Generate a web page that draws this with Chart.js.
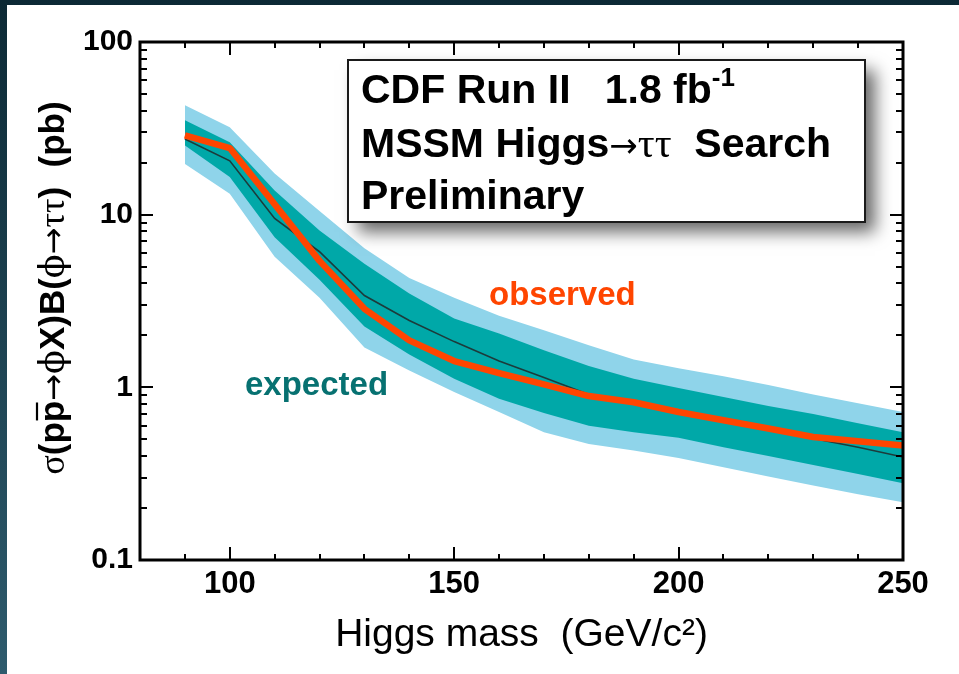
<!DOCTYPE html>
<html>
<head>
<meta charset="utf-8">
<script src="https://cdn.jsdelivr.net/npm/chart.js@4.4.1/dist/chart.umd.min.js"></script>
<style>
  html, body { margin: 0; padding: 0; }
  body {
    width: 959px; height: 674px; overflow: hidden; position: relative;
    background: linear-gradient(#0c2935, #2e5b6d);
  }
  #panel { position: absolute; left: 7px; top: 5px; right: 0; bottom: 0; background: #ffffff; }
  #c { position: absolute; left: 0; top: 0; }
</style>
</head>
<body>
<div id="panel"></div>
<canvas id="c" width="959" height="674"></canvas>
<script>
// Higgs mass points (GeV/c^2)
const masses = [90, 100, 110, 120, 130, 140, 150, 160, 170, 180, 190, 200, 210, 220, 230, 240, 250];

// 95% CL limits on sigma x BR (pb)
const observed   = [28.8, 24.3, 11.5, 5.4, 2.85, 1.87, 1.42, 1.21, 1.04, 0.89, 0.82, 0.72, 0.645, 0.578, 0.516, 0.487, 0.461];
const expected   = [27.4, 20.5, 9.5, 6.1, 3.4, 2.44, 1.84, 1.42, 1.14, 0.91, 0.80, 0.72, 0.64, 0.57, 0.505, 0.45, 0.395];
const band1Upper = [35.2, 26.3, 13.8, 8.1, 5.2, 3.5, 2.5, 2.05, 1.64, 1.33, 1.12, 0.99, 0.88, 0.78, 0.70, 0.62, 0.55];
const band1Lower = [25.2, 16.5, 7.4, 4.2, 2.25, 1.55, 1.12, 0.86, 0.71, 0.60, 0.55, 0.51, 0.45, 0.40, 0.355, 0.315, 0.278];
const band2Upper = [43.0, 32.1, 17.3, 10.5, 6.4, 4.3, 3.3, 2.6, 2.14, 1.75, 1.45, 1.29, 1.16, 1.03, 0.91, 0.81, 0.72];
const band2Lower = [19.7, 13.2, 5.7, 3.3, 1.7, 1.25, 0.94, 0.72, 0.55, 0.47, 0.43, 0.39, 0.345, 0.305, 0.27, 0.24, 0.216];

// Axis labelling
const xMajorTicks = [100, 150, 200, 250];
const yMajorTicks = [0.1, 1, 10, 100];

const C_LIGHT = '#8fd4ea';
const C_TEAL  = '#00a8a8';
const C_OBS   = '#ff4500';
const C_EXP   = '#1c3b3b';

const pts = arr => masses.map((m, i) => ({ x: m, y: arr[i] }));

const SANS = '"Liberation Sans", Arial, sans-serif';
const SERIF = '"Liberation Serif", "DejaVu Serif", serif';
const SYM = '"DejaVu Serif", serif';
const ARROW = '"DejaVu Sans", sans-serif';

// Draws a row of text pieces with different fonts, starting at x
function drawRuns(ctx, runs, x, y) {
  let cx = x;
  for (const r of runs) {
    ctx.font = r.font;
    const dy = r.dy || 0;
    ctx.fillText(r.text, cx, y + dy);
    const w = ctx.measureText(r.text).width;
    if (r.overbar) {
      const ob = r.overbar;
      ctx.save();
      ctx.lineWidth = 2.2;
      ctx.beginPath();
      ctx.moveTo(cx + ob.from * w, y - ob.h);
      ctx.lineTo(cx + ob.to * w, y - ob.h);
      ctx.stroke();
      ctx.restore();
    }
    cx += w;
  }
  return cx - x;
}
function runsWidth(ctx, runs) {
  let w = 0;
  for (const r of runs) { ctx.font = r.font; w += ctx.measureText(r.text).width; }
  return w;
}

const framePlugin = {
  id: 'frameAndTicks',
  afterDraw(chart) {
    const ctx = chart.ctx;
    const { left, right, top, bottom } = chart.chartArea;
    const xs = chart.scales.x, ys = chart.scales.y;
    ctx.save();
    ctx.strokeStyle = '#000';

    // inward ticks on all four sides
    ctx.lineWidth = 2;
    ctx.beginPath();
    for (let m = 90; m <= 250; m += 10) {
      const px = Math.round(xs.getPixelForValue(m));
      const len = xMajorTicks.includes(m) ? 13 : 6;
      ctx.moveTo(px, bottom); ctx.lineTo(px, bottom - len);
      ctx.moveTo(px, top); ctx.lineTo(px, top + len);
    }
    for (let d = -1; d <= 1; d++) {
      for (let k = 1; k <= 10; k++) {
        const v = k * Math.pow(10, d);
        const py = Math.round(ys.getPixelForValue(v));
        const len = (k === 1 || k === 10) ? 13 : 7;
        ctx.moveTo(left, py); ctx.lineTo(left + len, py);
        ctx.moveTo(right, py); ctx.lineTo(right - len, py);
      }
    }
    ctx.stroke();

    // plot frame
    ctx.lineWidth = 3;
    ctx.strokeRect(left, top, right - left, bottom - top);

    // y-axis title, rotated
    const fb = 'bold 35px ' + SANS;
    const fs = '36px ' + SERIF;
    const fp = '35px ' + SYM;
    const fa = '32px ' + ARROW;
    const yRuns = [
      { text: 'σ', font: fs },
      { text: '(p', font: fb },
      { text: 'p', font: fb, overbar: { from: 0.08, to: 0.92, h: 27 } },
      { text: '→', font: fa },
      { text: 'ϕ', font: fp },
      { text: 'X)B(', font: fb },
      { text: 'ϕ', font: fp },
      { text: '→', font: fa },
      { text: 'ττ', font: fs },
      { text: ')  (pb)', font: fb }
    ];
    ctx.save();
    ctx.translate(64, 288);
    ctx.rotate(-Math.PI / 2);
    ctx.fillStyle = '#000';
    ctx.strokeStyle = '#000';
    ctx.textBaseline = 'alphabetic';
    const tw = runsWidth(ctx, yRuns);
    drawRuns(ctx, yRuns, -tw / 2, 0);
    ctx.restore();

    // curve labels
    ctx.font = 'bold 33px ' + SANS;
    ctx.textAlign = 'left';
    ctx.textBaseline = 'alphabetic';
    ctx.fillStyle = C_OBS;
    ctx.fillText('observed', 489, 305);
    ctx.fillStyle = '#077171';
    ctx.fillText('expected', 245, 395);

    // info box with drop shadow
    const bx = 348, by = 60, bw = 517, bh = 162;
    ctx.save();
    ctx.shadowColor = 'rgba(0,0,0,0.6)';
    ctx.shadowBlur = 16;
    ctx.shadowOffsetX = 10;
    ctx.shadowOffsetY = 10;
    ctx.fillStyle = '#fff';
    ctx.fillRect(bx, by, bw, bh);
    ctx.restore();
    ctx.lineWidth = 2;
    ctx.strokeStyle = '#1a1a1a';
    ctx.strokeRect(bx, by, bw, bh);

    ctx.fillStyle = '#000';
    const tb = 'bold 41px ' + SANS;
    drawRuns(ctx, [
      { text: 'CDF Run II   1.8 fb', font: tb },
      { text: '-1', font: 'bold 26px ' + SANS, dy: -17 }
    ], 361, 103);
    drawRuns(ctx, [
      { text: 'MSSM Higgs', font: tb },
      { text: '→', font: '34px ' + ARROW },
      { text: 'ττ', font: '42px ' + SERIF },
      { text: '  Search', font: tb }
    ], 361, 157);
    drawRuns(ctx, [{ text: 'Preliminary', font: tb }], 361, 209);

    ctx.restore();
  }
};

new Chart(document.getElementById('c'), {
  type: 'line',
  data: {
    datasets: [
      { label: 'observed', data: pts(observed), borderColor: C_OBS, borderWidth: 6.5, pointRadius: 0, fill: false, order: 0, borderJoinStyle: 'round' },
      { label: 'expected', data: pts(expected), borderColor: C_EXP, borderWidth: 1.6, pointRadius: 0, fill: false, order: 1 },
      { label: '+1 sigma', data: pts(band1Upper), borderWidth: 0, borderColor: 'rgba(0,0,0,0)', pointRadius: 0,
        fill: { target: 3, above: C_TEAL, below: C_TEAL }, order: 2 },
      { label: '-1 sigma', data: pts(band1Lower), borderWidth: 0, borderColor: 'rgba(0,0,0,0)', pointRadius: 0, fill: false, order: 2 },
      { label: '+2 sigma', data: pts(band2Upper), borderWidth: 0, borderColor: 'rgba(0,0,0,0)', pointRadius: 0,
        fill: { target: 5, above: C_LIGHT, below: C_LIGHT }, order: 3 },
      { label: '-2 sigma', data: pts(band2Lower), borderWidth: 0, borderColor: 'rgba(0,0,0,0)', pointRadius: 0, fill: false, order: 3 }
    ]
  },
  options: {
    responsive: false,
    animation: false,
    layout: { padding: { left: 0, top: 42, right: 56, bottom: 0 } },
    plugins: {
      legend: { display: false },
      tooltip: { enabled: false },
      filler: { propagate: false }
    },
    scales: {
      x: {
        type: 'linear', min: 80, max: 250,
        grid: { display: false, drawTicks: false },
        border: { display: false },
        ticks: {
          stepSize: 10, autoSkip: false, maxRotation: 0, padding: 6,
          color: '#000', font: { family: SANS, size: 31, weight: 'bold' },
          callback: v => xMajorTicks.includes(v) ? String(v) : ''
        },
        title: {
          display: true, text: 'Higgs mass  (GeV/c²)', color: '#000',
          font: { family: SANS, size: 39 }, padding: { top: 0, bottom: 15 }
        },
        afterFit: s => { s.height = 114; }
      },
      y: {
        type: 'logarithmic', min: 0.1, max: 100,
        grid: { display: false, drawTicks: false },
        border: { display: false },
        ticks: {
          autoSkip: false, padding: 7,
          color: '#000', font: { family: SANS, size: 30, weight: 'bold' },
          callback: v => yMajorTicks.some(t => Math.abs(t - v) < 1e-9 * t) ? String(v) : ''
        },
        afterFit: s => { s.width = 140; }
      }
    }
  },
  plugins: [framePlugin]
});
</script>
</body>
</html>
